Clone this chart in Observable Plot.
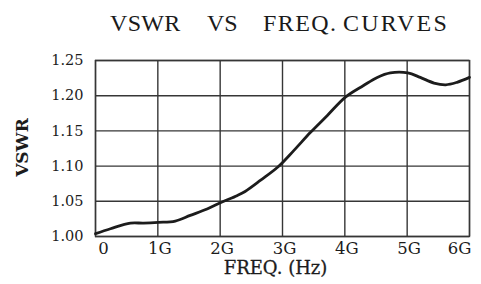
<!DOCTYPE html>
<html>
<head>
<meta charset="utf-8">
<script src="https://cdn.jsdelivr.net/npm/d3@7"></script>
<script src="https://cdn.jsdelivr.net/npm/@observablehq/plot@0.6"></script>
<style>
  html, body { margin: 0; padding: 0; background: #ffffff; }
  #wrap { position: relative; width: 481px; height: 284px; overflow: hidden; }
  #title { position: relative; width: 481px; height: 40px; font-family: "Liberation Serif", serif; font-size: 24px; line-height: 24px; color: #1a1a1a; }
  #title span { position: absolute; top: 11px; white-space: pre; }
</style>
</head>
<body>
<div id="wrap">
  <div id="title">
    <span style="left:110px;letter-spacing:0.3px">VSWR</span><span style="left:207px">VS</span><span style="left:263px;letter-spacing:1.4px">FREQ.</span><span style="left:343px;letter-spacing:2.2px">CURVES</span>
  </div>
  <div id="chart"></div>
</div>
<script>
// Frequency (GHz) and VSWR
const freq = [0, 0.24, 0.56, 0.77, 1.01, 1.28, 1.52, 1.79, 2.03, 2.27, 2.4, 2.65, 2.93, 3.18, 3.45, 3.72, 4.01, 4.3, 4.52, 4.73, 5.01, 5.21, 5.43, 5.62, 5.8, 6.0];
const vswr = [1.004, 1.011, 1.019, 1.019, 1.020, 1.022, 1.030, 1.039, 1.049, 1.058, 1.064, 1.080, 1.099, 1.122, 1.148, 1.172, 1.198, 1.2145, 1.226, 1.2325, 1.2325, 1.226, 1.218, 1.2155, 1.219, 1.226];

const xTicks = [0, 1, 2, 3, 4, 5, 6];
const xTickLabels = ["0", "1G", "2G", "3G", "4G", "5G", "6G"];
const yTicks = [1.00, 1.05, 1.10, 1.15, 1.20, 1.25];

const data = freq.map((f, i) => ({f, v: vswr[i]}));
const xLabel = d => xTickLabels[xTicks.indexOf(d)];

const ink = "#1c1c1c";
const gridInk = "#363636";
const heavy = {fill: ink, stroke: ink, strokeWidth: 0.3};

const chart = Plot.plot({
  width: 481,
  height: 244,
  marginTop: 20,
  marginBottom: 48,
  marginLeft: 95,
  marginRight: 12,
  style: {fontFamily: "DejaVu Serif", color: ink, background: "transparent", overflow: "visible"},
  x: {domain: [0, 6]},
  y: {domain: [1.00, 1.25]},
  marks: [
    Plot.ruleX(xTicks, {stroke: gridInk, strokeWidth: 1.4}),
    Plot.ruleY(yTicks, {stroke: gridInk, strokeWidth: 1.4}),
    Plot.frame({stroke: gridInk, strokeWidth: 1.4}),
    Plot.line(data, {x: "f", y: "v", curve: "catmull-rom", stroke: ink, strokeWidth: 2.8}),
    Plot.axisY(yTicks, {anchor: "left", tickSize: 0, tickPadding: 12, fontSize: 14.5, tickFormat: d => d.toFixed(2), label: null, ...heavy}),
    Plot.axisX([0], {anchor: "bottom", tickSize: 0, tickPadding: 6, fontSize: 16.5, dx: 8, tickFormat: xLabel, label: null, ...heavy}),
    Plot.axisX([1, 2, 3, 4, 5], {anchor: "bottom", tickSize: 0, tickPadding: 6, fontSize: 16.5, dx: 2, tickFormat: xLabel, label: null, ...heavy}),
    Plot.axisX([6], {anchor: "bottom", tickSize: 0, tickPadding: 6, fontSize: 16.5, dx: -10, tickFormat: xLabel, label: null, ...heavy}),
    Plot.text(["FREQ. (Hz)"], {frameAnchor: "bottom", dy: 32, dx: -7, fontSize: 18, lineAnchor: "middle", ...heavy}),
    Plot.text(["VSWR"], {frameAnchor: "left", dx: -73, dy: -1, rotate: -90, fontSize: 17, fontWeight: "bold", lineAnchor: "middle", textAnchor: "middle", fill: ink})
  ]
});
document.getElementById("chart").appendChild(chart);
</script>
</body>
</html>
